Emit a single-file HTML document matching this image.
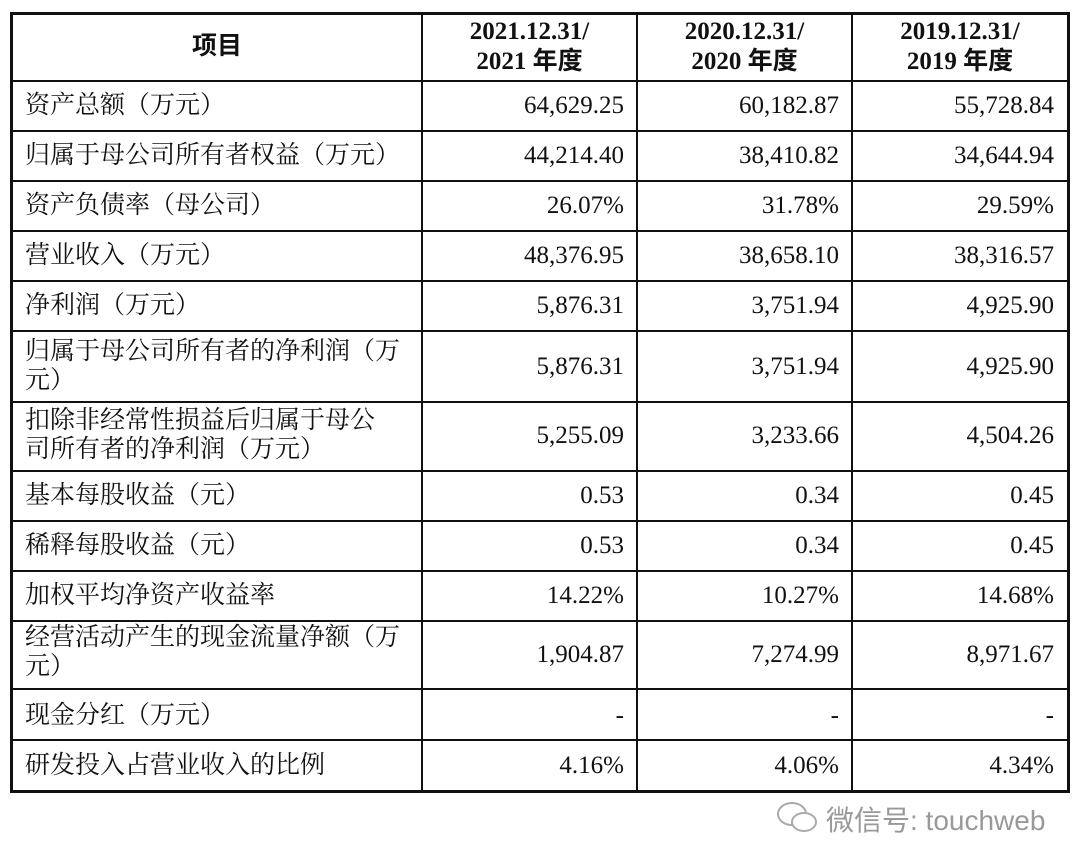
<!DOCTYPE html>
<html><head><meta charset="utf-8"><style>
body{margin:0;width:1080px;height:863px;background:#fff;position:relative;overflow:hidden;font-family:"Liberation Serif","Noto Serif CJK SC",serif;color:#111}
.h{position:absolute;background:#111}
.t{position:absolute;font-size:25px;line-height:29px;white-space:nowrap}
.l{left:25px}
.n{text-align:right;width:200px}
.hd{position:absolute;font-weight:bold;font-size:25px;line-height:30px;text-align:center;font-family:"Liberation Serif","Noto Sans CJK SC",serif}
</style></head><body>
<div class="h" style="left:10px;top:12px;width:1060px;height:3px"></div>
<div class="h" style="left:10px;top:790px;width:1060px;height:3px"></div>
<div class="h" style="left:10px;top:12px;width:3px;height:781px"></div>
<div class="h" style="left:1067px;top:12px;width:3px;height:781px"></div>
<div class="h" style="left:421px;top:12px;width:2px;height:780px"></div>
<div class="h" style="left:636px;top:12px;width:2px;height:780px"></div>
<div class="h" style="left:851px;top:12px;width:2px;height:780px"></div>
<div class="h" style="left:10px;top:80px;width:1060px;height:2px"></div>
<div class="h" style="left:10px;top:130px;width:1060px;height:2px"></div>
<div class="h" style="left:10px;top:180px;width:1060px;height:2px"></div>
<div class="h" style="left:10px;top:230px;width:1060px;height:2px"></div>
<div class="h" style="left:10px;top:280px;width:1060px;height:2px"></div>
<div class="h" style="left:10px;top:330px;width:1060px;height:2px"></div>
<div class="h" style="left:10px;top:401px;width:1060px;height:2px"></div>
<div class="h" style="left:10px;top:470px;width:1060px;height:2px"></div>
<div class="h" style="left:10px;top:520px;width:1060px;height:2px"></div>
<div class="h" style="left:10px;top:570px;width:1060px;height:2px"></div>
<div class="h" style="left:10px;top:620px;width:1060px;height:2px"></div>
<div class="h" style="left:10px;top:688px;width:1060px;height:2px"></div>
<div class="h" style="left:10px;top:739px;width:1060px;height:2px"></div>

<div class="hd" style="left:13px;top:32px;width:408px">项目</div>
<div class="hd" style="left:423px;top:17px;width:213px">2021.12.31/<br>2021 年度</div>
<div class="hd" style="left:638px;top:17px;width:213px">2020.12.31/<br>2020 年度</div>
<div class="hd" style="left:853px;top:17px;width:214px">2019.12.31/<br>2019 年度</div>

<div class="t l" style="top:91px">资产总额（万元）</div>
<div class="t l" style="top:141px">归属于母公司所有者权益（万元）</div>
<div class="t l" style="top:191px">资产负债率（母公司）</div>
<div class="t l" style="top:241px">营业收入（万元）</div>
<div class="t l" style="top:291px">净利润（万元）</div>
<div class="t l" style="top:337px">归属于母公司所有者的净利润（万<br>元）</div>
<div class="t l" style="top:406px">扣除非经常性损益后归属于母公<br>司所有者的净利润（万元）</div>
<div class="t l" style="top:481px">基本每股收益（元）</div>
<div class="t l" style="top:531px">稀释每股收益（元）</div>
<div class="t l" style="top:581px">加权平均净资产收益率</div>
<div class="t l" style="top:623px">经营活动产生的现金流量净额（万<br>元）</div>
<div class="t l" style="top:701px">现金分红（万元）</div>
<div class="t l" style="top:751px">研发投入占营业收入的比例</div>

<div class="t n" style="left:424px;top:91px">64,629.25</div><div class="t n" style="left:639px;top:91px">60,182.87</div><div class="t n" style="left:854px;top:91px">55,728.84</div>
<div class="t n" style="left:424px;top:141px">44,214.40</div><div class="t n" style="left:639px;top:141px">38,410.82</div><div class="t n" style="left:854px;top:141px">34,644.94</div>
<div class="t n" style="left:424px;top:191px">26.07%</div><div class="t n" style="left:639px;top:191px">31.78%</div><div class="t n" style="left:854px;top:191px">29.59%</div>
<div class="t n" style="left:424px;top:241px">48,376.95</div><div class="t n" style="left:639px;top:241px">38,658.10</div><div class="t n" style="left:854px;top:241px">38,316.57</div>
<div class="t n" style="left:424px;top:291px">5,876.31</div><div class="t n" style="left:639px;top:291px">3,751.94</div><div class="t n" style="left:854px;top:291px">4,925.90</div>
<div class="t n" style="left:424px;top:352px">5,876.31</div><div class="t n" style="left:639px;top:352px">3,751.94</div><div class="t n" style="left:854px;top:352px">4,925.90</div>
<div class="t n" style="left:424px;top:421px">5,255.09</div><div class="t n" style="left:639px;top:421px">3,233.66</div><div class="t n" style="left:854px;top:421px">4,504.26</div>
<div class="t n" style="left:424px;top:481px">0.53</div><div class="t n" style="left:639px;top:481px">0.34</div><div class="t n" style="left:854px;top:481px">0.45</div>
<div class="t n" style="left:424px;top:531px">0.53</div><div class="t n" style="left:639px;top:531px">0.34</div><div class="t n" style="left:854px;top:531px">0.45</div>
<div class="t n" style="left:424px;top:581px">14.22%</div><div class="t n" style="left:639px;top:581px">10.27%</div><div class="t n" style="left:854px;top:581px">14.68%</div>
<div class="t n" style="left:424px;top:640px">1,904.87</div><div class="t n" style="left:639px;top:640px">7,274.99</div><div class="t n" style="left:854px;top:640px">8,971.67</div>
<div class="t n" style="left:424px;top:701px">-</div><div class="t n" style="left:639px;top:701px">-</div><div class="t n" style="left:854px;top:701px">-</div>
<div class="t n" style="left:424px;top:751px">4.16%</div><div class="t n" style="left:639px;top:751px">4.06%</div><div class="t n" style="left:854px;top:751px">4.34%</div>

<svg style="position:absolute;left:774px;top:800px" width="48" height="36" viewBox="0 0 48 36"><ellipse cx="18" cy="14" rx="14" ry="11" fill="none" stroke="#aaa" stroke-width="2"/><ellipse cx="30" cy="22" rx="12" ry="9" fill="#fff" stroke="#aaa" stroke-width="2"/></svg>
<div style="position:absolute;left:826px;top:799px;font-family:'Liberation Sans','Noto Sans CJK SC',sans-serif;font-size:28px;color:#999;white-space:nowrap">微信号: touchweb</div>
</body></html>
